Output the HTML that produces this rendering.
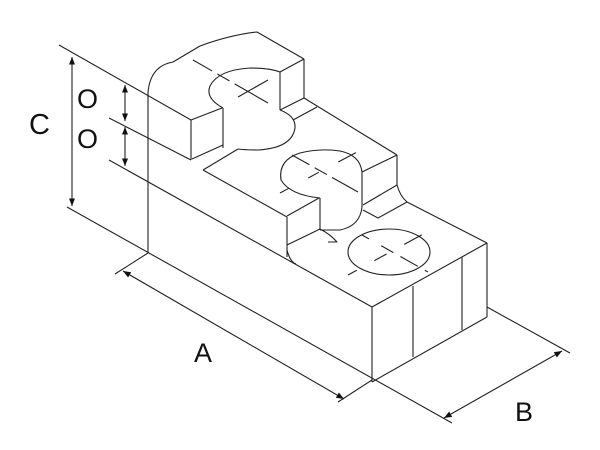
<!DOCTYPE html>
<html><head><meta charset="utf-8"><style>
html,body{margin:0;padding:0;background:#fff;width:600px;height:450px;overflow:hidden}
svg{display:block}
text{font-family:"Liberation Sans","DejaVu Sans",sans-serif;fill:#111}
</style></head><body>
<svg width="600" height="450" viewBox="0 0 600 450" xmlns="http://www.w3.org/2000/svg">
<defs>
<marker id="ar" viewBox="0 0 10 10" refX="10" refY="5" markerWidth="7" markerHeight="7" orient="auto-start-reverse">
<path d="M0,1 L10,5 L0,9 z" fill="#111"/></marker>
</defs>
<g fill="none" stroke="#222" stroke-width="1.1" stroke-linejoin="round">
<!-- extension lines left -->
<line x1="59" y1="45" x2="191" y2="120"/>
<line x1="109" y1="118" x2="191" y2="160"/>
<line x1="109" y1="160" x2="372" y2="307"/>
<line x1="67" y1="207" x2="452" y2="423"/>
<!-- dims C and O -->
<line x1="72" y1="57" x2="72" y2="206" marker-start="url(#ar)" marker-end="url(#ar)"/>
<line x1="125" y1="85" x2="125" y2="121" marker-start="url(#ar)" marker-end="url(#ar)"/>
<line x1="125" y1="127" x2="125" y2="166" marker-start="url(#ar)" marker-end="url(#ar)"/>
<!-- A dim -->
<line x1="148" y1="253" x2="115" y2="274"/>
<line x1="123" y1="271" x2="344" y2="399" marker-start="url(#ar)" marker-end="url(#ar)"/>
<line x1="372" y1="380" x2="338" y2="402"/>
<!-- B dim -->
<line x1="487" y1="307" x2="570" y2="353"/>
<line x1="444" y1="418" x2="562" y2="351" marker-start="url(#ar)" marker-end="url(#ar)"/>
<!-- left vertical with curved top -->
<path d="M148,253 L148,93 Q150,66 173,62 L200,46 Q230,35 257,32 L304,59"/>
<!-- top step -->
<line x1="191" y1="120" x2="191" y2="160"/>
<path d="M191,120 L222,108"/>
<path d="M192,159 L223,145"/>
<line x1="223" y1="108" x2="223" y2="148"/>
<path d="M203,170 L238,149"/>
<line x1="203" y1="170" x2="287" y2="217"/>
<!-- keyhole 1 -->
<path d="M223,108 Q205,98 210,86 Q218,70 250,68 Q270,68 280,72"/>
<path d="M280,110 Q296,116 295,128 Q292,148 258,150 Q245,150 238,149"/>
<line x1="193" y1="60" x2="268" y2="103" stroke-dasharray="22 6 14 6 40"/>
<line x1="238" y1="97" x2="268" y2="80"/>
<!-- top block right -->
<line x1="280" y1="72" x2="304" y2="59"/>
<line x1="280" y1="72" x2="280" y2="110"/>
<line x1="304" y1="59" x2="304" y2="98"/>
<line x1="280" y1="110" x2="304" y2="98"/>
<line x1="304" y1="98" x2="397" y2="155"/>
<line x1="293" y1="120" x2="317" y2="107"/>
<!-- middle step right block -->
<line x1="362" y1="172" x2="397" y2="155"/>
<line x1="397" y1="155" x2="397" y2="185"/>
<line x1="363" y1="205" x2="397" y2="185"/>
<path d="M397,185 Q400,196 407,202 L378,218 L363,210"/>
<line x1="407" y1="202" x2="487" y2="243"/>
<!-- keyhole 2 -->
<path d="M320,198 Q290,195 281,180 Q278,160 300,153 Q320,148 340,151 Q360,155 362,172 L362,207 Q360,226 340,230 L320,230"/>
<line x1="292" y1="155" x2="358" y2="192" stroke-dasharray="20 6 14 6 40"/>
<line x1="280" y1="193" x2="357" y2="152" stroke-dasharray="10 22 12 22 20"/>
<!-- middle step left front block -->
<line x1="287" y1="217" x2="287" y2="257"/>
<line x1="287" y1="216" x2="319" y2="198"/>
<line x1="320" y1="198" x2="320" y2="230"/>
<line x1="287" y1="245" x2="320" y2="229"/>
<path d="M320,229 Q330,234 337,242 L328,242"/>
<path d="M287,250 Q290,262 296,264"/>
<!-- ellipse 3 -->
<ellipse cx="389" cy="252" rx="41" ry="23"/>
<line x1="362" y1="235" x2="428" y2="272" stroke-dasharray="8 14 14 8 20"/>
<line x1="348" y1="275" x2="427" y2="232" stroke-dasharray="10 20 14 20 20"/>
<!-- main block -->
<line x1="372" y1="307" x2="372" y2="382"/>
<line x1="372" y1="307" x2="487" y2="243"/>
<line x1="487" y1="243" x2="487" y2="317"/>
<line x1="372" y1="382" x2="487" y2="317"/>
<line x1="413" y1="286" x2="413" y2="357"/>
<line x1="462" y1="257" x2="462" y2="330"/>
</g>
<text x="29" y="134" font-size="29">C</text>
<text x="77" y="108" font-size="27">O</text>
<text x="77" y="148" font-size="27">O</text>
<text x="194" y="362" font-size="27">A</text>
<text x="515" y="421" font-size="27">B</text>
</svg>
</body></html>
